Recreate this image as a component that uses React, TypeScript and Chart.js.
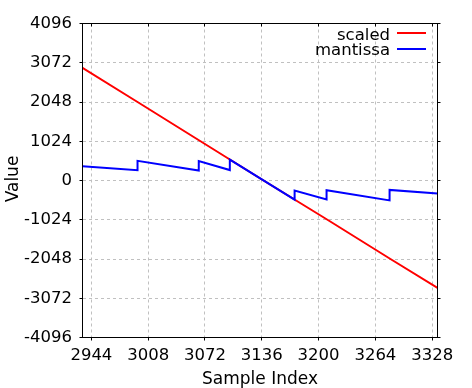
import React, { useEffect, useRef } from 'react';
import { Chart, registerables } from 'chart.js';

Chart.register(...registerables);

const xTicks = [2944, 3008, 3072, 3136, 3200, 3264, 3328];
const yTicks = [-4096, -3072, -2048, -1024, 0, 1024, 2048, 3072, 4096];

const scaledX = [2934, 2996, 3067, 3138, 3210, 3281, 3334];
const scaledY = [2940, 2048, 1024, 0, -1024, -2048, -2800];

const mantissaX = [2934, 2996, 2996, 3065, 3065, 3100, 3100, 3173, 3173, 3209, 3209, 3280, 3280, 3334];
const mantissaY = [373, 268, 512, 262, 508, 272, 545, -500, -262, -495, -255, -520, -245, -340];

const seriesNames = ['scaled', 'mantissa'];
const seriesColors = ['#ff0000', '#0000ff'];

const xTitle = 'Sample Index';
const yTitle = 'Value';

const FONT = 'DejaVu Sans';

export default function App() {
  const ref = useRef<HTMLCanvasElement>(null);

  useEffect(() => {
    document.body.style.margin = '0';
    const canvas = ref.current;
    if (!canvas) return;

    const framePlugin = {
      id: 'framePlugin',
      afterDraw(chart: any) {
        const ctx = chart.ctx;
        const a = chart.chartArea;
        const xs = chart.scales.x;
        const ys = chart.scales.y;
        ctx.save();
        ctx.strokeStyle = '#000';
        ctx.lineWidth = 1;
        ctx.setLineDash([]);
        ctx.strokeRect(a.left, a.top, a.right - a.left, a.bottom - a.top);
        ctx.beginPath();
        for (const v of xTicks) {
          const p = Math.floor(xs.getPixelForValue(v)) + 0.5;
          ctx.moveTo(p, a.bottom);
          ctx.lineTo(p, a.bottom + 3);
          ctx.moveTo(p, a.top);
          ctx.lineTo(p, a.top + 3);
        }
        for (const v of yTicks) {
          const p = Math.floor(ys.getPixelForValue(v)) + 0.5;
          ctx.moveTo(a.left - 3, p);
          ctx.lineTo(a.left, p);
          ctx.moveTo(a.right, p);
          ctx.lineTo(a.right + 3, p);
        }
        ctx.stroke();

        // axis titles
        ctx.fillStyle = '#000';
        ctx.font = `17px "${FONT}"`;
        ctx.textAlign = 'center';
        ctx.textBaseline = 'alphabetic';
        ctx.fillText(xTitle, (a.left + a.right) / 2, 384);
        ctx.save();
        ctx.translate(18.3, 179);
        ctx.rotate(-Math.PI / 2);
        ctx.fillText(yTitle, 0, 0);
        ctx.restore();

        // legend
        ctx.font = `16.5px "${FONT}"`;
        ctx.textAlign = 'right';
        const baselines = [40, 54.5];
        const lineYs = [33, 49];
        seriesNames.forEach((name, i) => {
          ctx.fillStyle = '#000';
          ctx.fillText(name, 390, baselines[i]);
          ctx.strokeStyle = seriesColors[i];
          ctx.lineWidth = 2;
          ctx.beginPath();
          ctx.moveTo(397, lineYs[i]);
          ctx.lineTo(426, lineYs[i]);
          ctx.stroke();
        });
        ctx.restore();
      },
    };

    const tickFont = { family: FONT, size: 16.5 };

    const chart = new Chart(canvas, {
      type: 'line',
      data: {
        datasets: [
          {
            label: seriesNames[1],
            data: mantissaX.map((x, i) => ({ x, y: mantissaY[i] })),
            borderColor: seriesColors[1],
            backgroundColor: seriesColors[1],
            borderWidth: 2,
            pointRadius: 0,
            tension: 0,
            fill: false,
          },
          {
            label: seriesNames[0],
            data: scaledX.map((x, i) => ({ x, y: scaledY[i] })),
            borderColor: seriesColors[0],
            backgroundColor: seriesColors[0],
            borderWidth: 2,
            pointRadius: 0,
            tension: 0,
            fill: false,
          },
        ],
      },
      options: {
        responsive: false,
        animation: false,
        devicePixelRatio: 1,
        layout: { padding: { top: 23.5, right: 34.5, bottom: 0, left: 0 } },
        plugins: { legend: { display: false }, tooltip: { enabled: false } },
        scales: {
          x: {
            type: 'linear',
            min: 2934,
            max: 3334,
            afterBuildTicks: (s: any) => {
              s.ticks = xTicks.map((v) => ({ value: v }));
            },
            afterFit: (s: any) => {
              s.height = 50.5;
            },
            grid: { color: '#c0c0c0', lineWidth: 1, drawTicks: false },
            border: { display: false, dash: [3, 3] },
            ticks: {
              font: tickFont,
              color: '#000',
              padding: 8,
              maxRotation: 0,
              autoSkip: false,
              callback: (v: any) => String(v),
            },
          },
          y: {
            type: 'linear',
            min: -4096,
            max: 4096,
            afterBuildTicks: (s: any) => {
              s.ticks = yTicks.map((v) => ({ value: v }));
            },
            afterFit: (s: any) => {
              s.width = 82.5;
            },
            grid: { color: '#c0c0c0', lineWidth: 1, drawTicks: false },
            border: { display: false, dash: [3, 3] },
            ticks: {
              font: tickFont,
              color: '#000',
              padding: 10.5,
              autoSkip: false,
              callback: (v: any) => String(v),
            },
          },
        },
      },
      plugins: [framePlugin],
    } as any);

    return () => chart.destroy();
  }, []);

  return (
    <div style={{ position: 'fixed', left: 0, top: 0, width: 472, height: 388 }}>
      <canvas ref={ref} width={472} height={388} style={{ width: 472, height: 388, display: 'block' }} />
    </div>
  );
}
